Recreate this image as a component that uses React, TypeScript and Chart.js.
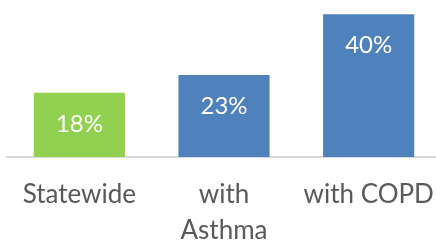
import React, { useEffect, useRef } from "react";
import { Chart, registerables } from "chart.js";

Chart.register(...registerables);

const categories: (string | string[])[] = ["Statewide", ["with", "Asthma"], "with COPD"];
const values: number[] = [18, 23, 40];
const valueLabels: string[] = ["18%", "23%", "40%"];
const barColors: string[] = ["#92D050", "#4F81BD", "#4F81BD"];

const FONT = "Lato, 'Open Sans', sans-serif";

const insideLabels = {
  id: "insideLabels",
  afterDatasetsDraw(chart: any) {
    const ctx = chart.ctx;
    const meta = chart.getDatasetMeta(0);
    ctx.save();
    ctx.fillStyle = "#ffffff";
    ctx.font = `24px ${FONT}`;
    ctx.textAlign = "center";
    ctx.textBaseline = "middle";
    meta.data.forEach((bar: any, i: number) => {
      ctx.fillText(valueLabels[i], bar.x, bar.y + 31);
    });
    ctx.restore();
  },
};

export default function App() {
  const ref = useRef<HTMLCanvasElement | null>(null);
  useEffect(() => {
    if (!ref.current) return;
    const chart = new Chart(ref.current, {
      type: "bar",
      data: {
        labels: categories,
        datasets: [
          {
            data: values,
            backgroundColor: barColors,
            borderWidth: 0,
            barPercentage: 0.63,
            categoryPercentage: 1,
          },
        ],
      },
      options: {
        animation: false,
        responsive: false,
        maintainAspectRatio: false,
        layout: { padding: { left: 7, right: 0, top: 0, bottom: 0 } },
        plugins: { legend: { display: false }, tooltip: { enabled: false } },
        scales: {
          x: {
            grid: { display: false, drawTicks: false },
            border: { display: true, color: "#D9D9D9", width: 2 },
            ticks: {
              color: "#595959",
              font: { family: FONT, size: 26, lineHeight: "36px" },
              padding: 20,
              maxRotation: 0,
              minRotation: 0,
              autoSkip: false,
            },
            afterFit: (scale: any) => {
              scale.height = 83;
              scale.paddingLeft = 0;
              scale.paddingRight = 0;
            },
          },
          y: {
            display: false,
            min: 0,
            max: 44,
          },
        },
      },
      plugins: [insideLabels],
    });
    return () => chart.destroy();
  }, []);
  return (
    <div style={{ position: "absolute", left: 0, top: 0, width: 436, height: 240, overflow: "hidden", background: "#fff" }}>
      <canvas ref={ref} width={441} height={240} style={{ display: "block", width: 441, height: 240 }} />
    </div>
  );
}
